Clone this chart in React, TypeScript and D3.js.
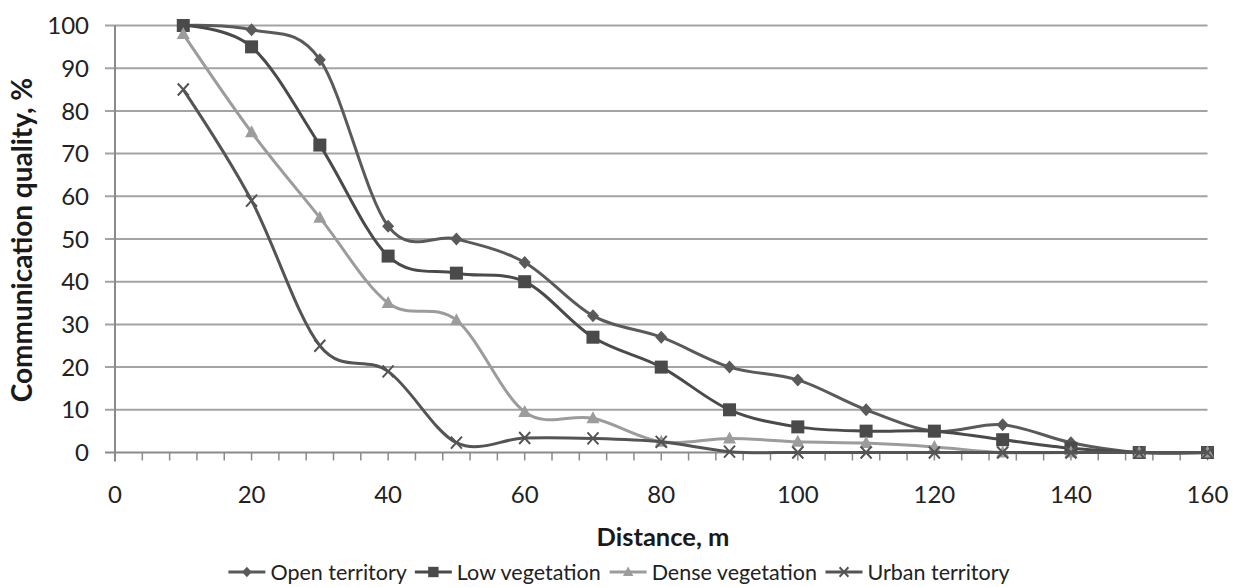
import React from "react";
import * as d3 from "d3";

const distances = [10, 20, 30, 40, 50, 60, 70, 80, 90, 100, 110, 120, 130, 140, 150, 160];
const openTerritory = [100, 99, 92, 53, 50, 44.5, 32, 27, 20, 17, 10, 5, 6.5, 2.3, 0, 0];
const lowVegetation = [100, 95, 72, 46, 42, 40, 27, 20, 10, 6, 5, 5, 3, 1, 0, 0];
const denseVegetation = [98, 75, 55, 35, 31, 9.5, 8, 2.5, 3.3, 2.5, 2.2, 1.3, 0, 0, 0, 0];
const urbanTerritory = [85, 59, 25, 19, 2.3, 3.4, 3.3, 2.5, 0.2, 0, 0, 0, 0, 0, 0, 0];
const seriesNames = ["Open territory", "Low vegetation", "Dense vegetation", "Urban territory"];
const xTicks = [0, 20, 40, 60, 80, 100, 120, 140, 160];
const yTicks = [0, 10, 20, 30, 40, 50, 60, 70, 80, 90, 100];

const W = 1233;
const H = 587;
const FONT = "Lato, 'Open Sans', sans-serif";

type Kind = "diamond" | "square" | "triangle" | "x";

const series: { name: string; values: number[]; color: string; kind: Kind }[] = [
  { name: seriesNames[0], values: openTerritory, color: "#5a5a5a", kind: "diamond" },
  { name: seriesNames[1], values: lowVegetation, color: "#4a4a4a", kind: "square" },
  { name: seriesNames[2], values: denseVegetation, color: "#9c9c9c", kind: "triangle" },
  { name: seriesNames[3], values: urbanTerritory, color: "#545454", kind: "x" },
];

function Marker({ kind, x, y, color, s = 1 }: { kind: Kind; x: number; y: number; color: string; s?: number }) {
  if (kind === "square") {
    const h = 6.5 * s;
    return <rect x={x - h} y={y - h} width={2 * h} height={2 * h} fill={color} />;
  }
  if (kind === "diamond") {
    return (
      <path d={`M${x},${y - 6.5 * s}L${x + 6 * s},${y}L${x},${y + 6.5 * s}L${x - 6 * s},${y}Z`} fill={color} />
    );
  }
  if (kind === "triangle") {
    return <path d={`M${x},${y - 7 * s}L${x + 6.5 * s},${y + 5 * s}L${x - 6.5 * s},${y + 5 * s}Z`} fill={color} />;
  }
  return (
    <path
      d={`M${x - 5.5 * s},${y - 6 * s}L${x + 5.5 * s},${y + 6 * s}M${x + 5.5 * s},${y - 6 * s}L${x - 5.5 * s},${y + 6 * s}`}
      stroke={color}
      strokeWidth={2}
      fill="none"
    />
  );
}

function measure(text: string, font: string): number {
  const c = document.createElement("canvas").getContext("2d");
  if (!c) return text.length * 10;
  c.font = font;
  return c.measureText(text).width;
}

export default function App() {
  const x = d3.scaleLinear().domain([0, 160]).range([115, 1207.5]);
  const y = d3.scaleLinear().domain([0, 100]).range([452.5, 25.5]);
  const line = d3
    .line<number>()
    .x((_, i) => x(distances[i]))
    .y((v) => y(v))
    .curve(d3.curveCardinal.tension(0));

  const minorTicks = d3.range(0, 161, 4);

  const legendFontSize = 21.5;
  const legendFont = `${legendFontSize}px ${FONT}`;
  const lineLen = 37;
  const gapA = 5;
  const gapB = 8;
  const widths = series.map((s) => measure(s.name, legendFont));
  const total = widths.reduce((a, w) => a + lineLen + gapA + w, 0) + gapB * (series.length - 1);
  let cursor = 619 - total / 2;
  const legendItems = series.map((s, i) => {
    const item = { s, x0: cursor, tx: cursor + lineLen + gapA };
    cursor += lineLen + gapA + widths[i] + gapB;
    return item;
  });

  return (
    <svg
      width={W}
      height={H}
      style={{ position: "absolute", left: 0, top: 0, background: "#fff" }}
      fontFamily={FONT}
    >
      {/* gridlines */}
      {yTicks.map((t) => (
        <line key={t} x1={105} x2={x(160)} y1={y(t)} y2={y(t)} stroke={t === 0 ? "#8a8a8a" : "#a3a3a3"} strokeWidth={2} />
      ))}
      {/* y axis */}
      <line x1={x(0)} x2={x(0)} y1={y(100)} y2={y(0) + 9} stroke="#8a8a8a" strokeWidth={2} />
      {/* x ticks */}
      {minorTicks.map((t) => (
        <line key={t} x1={x(t)} x2={x(t)} y1={y(0)} y2={y(0) + 8} stroke="#8a8a8a" strokeWidth={1.5} />
      ))}
      {/* y tick labels */}
      {yTicks.map((t) => (
        <text key={t} x={89} y={y(t)} dy="0.36em" textAnchor="end" fontSize={24} fill="#222">
          {t}
        </text>
      ))}
      {/* x tick labels */}
      {xTicks.map((t) => (
        <text key={t} x={x(t)} y={503} textAnchor="middle" fontSize={24} fill="#222">
          {t}
        </text>
      ))}
      {/* titles */}
      <text x={663} y={546} textAnchor="middle" fontSize={25.5} fontWeight="bold" fill="#1a1a1a">
        Distance, m
      </text>
      <text
        transform={`translate(32,240) rotate(-90)`}
        textAnchor="middle"
        fontSize={28}
        fontWeight="bold"
        fill="#1a1a1a"
      >
        Communication quality, %
      </text>
      {/* series */}
      {series.map((s) => (
        <g key={s.name}>
          <path d={line(s.values) || ""} fill="none" stroke={s.color} strokeWidth={3} />
          {s.values.map((v, i) => (
            <Marker key={i} kind={s.kind} x={x(distances[i])} y={y(v)} color={s.color} />
          ))}
        </g>
      ))}
      {/* legend */}
      {legendItems.map(({ s, x0, tx }) => (
        <g key={s.name}>
          <line x1={x0} x2={x0 + lineLen} y1={572} y2={572} stroke={s.color} strokeWidth={3} />
          <Marker kind={s.kind} x={x0 + lineLen / 2} y={572} color={s.color} s={0.8} />
          <text x={tx} y={580} fontSize={legendFontSize} fill="#222">
            {s.name}
          </text>
        </g>
      ))}
    </svg>
  );
}
